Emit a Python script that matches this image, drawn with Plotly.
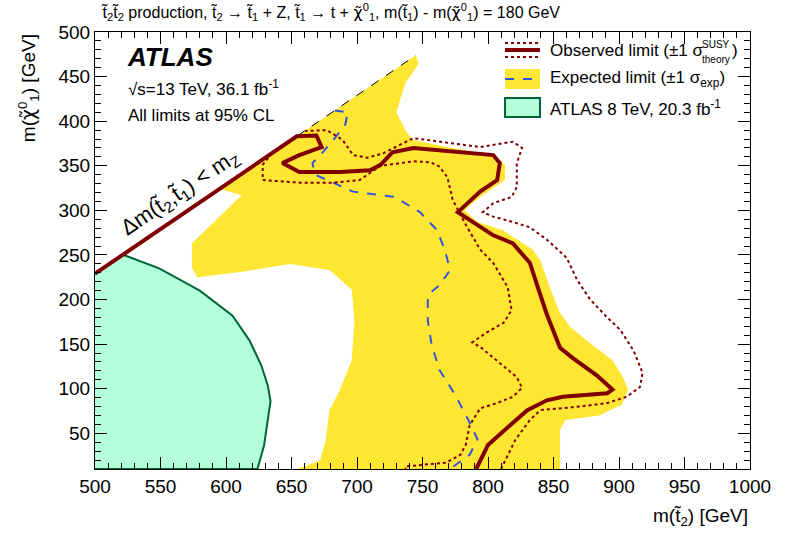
import plotly.graph_objects as go

# ---------------- data (GeV) ----------------
green_x = [500, 522, 549, 580, 605, 618, 627, 632, 634, 632, 629, 624, 500]
green_y = [229, 250, 235, 210, 182, 154, 126, 103, 86, 64, 36, 10, 10]

exp_band_x = [595, 745, 747, 737, 730, 738, 743, 769, 804, 809, 813, 813, 794, 782, 792, 811, 819,
              834, 840, 847, 855, 863, 878, 895, 903, 907, 902, 885, 859, 855, 855,
              655, 672, 676, 679, 687, 696, 698, 696, 679, 649, 611, 578, 574, 574, 612]
exp_band_y = [324, 474, 464, 443, 410, 387, 379, 371, 362, 356, 351, 334, 315, 300, 287, 278, 270,
              256, 244, 214, 185, 169, 151, 132, 113, 99, 82, 70, 65, 54, 10,
              10, 20, 42, 76, 99, 132, 177, 211, 233, 240, 231, 225, 236, 263, 317]

obs_x = [500, 654, 669, 673, 656, 643, 656, 687, 710, 718, 727, 743, 804, 809, 807, 794, 777, 794,
         804, 819, 832, 838, 845, 855, 865, 883, 895, 891, 857, 845, 830, 813, 800, 791]
obs_y = [229, 383, 384, 371, 362, 353, 343, 343, 345, 351, 365, 370, 362, 353, 334, 321, 298, 281,
         272, 263, 241, 214, 183, 146, 134, 115, 99, 95, 91, 87, 76, 54, 37, 10]

obs_up_x = [660, 677, 689, 697, 708, 720, 743, 769, 794, 819, 826, 822, 822, 818, 804, 796, 804,
            819, 832, 845, 860, 868, 878, 891, 901, 911, 918, 916, 906, 891, 870, 840, 832, 821,
            813, 810]
obs_up_y = [389, 390, 379, 362, 359, 364, 381, 376, 371, 377, 370, 353, 326, 315, 308, 298, 293,
            287, 281, 267, 247, 222, 200, 180, 166, 143, 118, 102, 91, 84, 80, 76, 65, 43,
            20, 10]

obs_dn_x = [635, 628, 628, 657, 682, 702, 718, 743, 756, 763, 769, 773, 783, 794, 804, 815, 818,
            812, 799, 788, 794, 809, 822, 826, 819, 807, 794, 786, 783, 779, 768, 737, 737]
obs_dn_y = [364, 351, 334, 331, 331, 334, 350, 355, 354, 349, 337, 312, 284, 256, 241, 214, 188,
            174, 163, 152, 147, 129, 113, 101, 91, 84, 78, 59, 37, 26, 17, 13, 10]

exp_x = [683, 693, 691, 682, 672, 666, 668, 682, 697, 729, 748, 761, 767, 771, 763, 754, 754,
         757, 763, 775, 785, 792, 786, 771]
exp_y = [412, 410, 396, 379, 362, 353, 340, 331, 321, 315, 298, 278, 256, 233, 216, 205, 177,
         149, 121, 93, 65, 43, 26, 10]

kin_x = [654, 745]
kin_y = [383, 474]

x_range = [500, 1000]
y_range = [10, 500]

# ---------------- styles ----------------
YELLOW = "#FFE633"
RED = "#800000"
BLUE = "#3355DD"
GREEN_FILL = "#B3FFD9"
GREEN_LINE = "#006633"
FONT = "Liberation Sans"
CHI = '<span style="font-family:DejaVu Sans">χ̃</span>'

fig = go.Figure()
fig.add_trace(go.Scatter(x=exp_band_x, y=exp_band_y, fill="toself", fillcolor=YELLOW,
                         line=dict(width=0), mode="lines", hoverinfo="skip"))
fig.add_trace(go.Scatter(x=green_x, y=green_y, fill="toself", fillcolor=GREEN_FILL,
                         line=dict(width=2, color=GREEN_LINE), mode="lines", hoverinfo="skip"))
fig.add_trace(go.Scatter(x=kin_x, y=kin_y, mode="lines",
                         line=dict(color="black", width=1, dash="dash")))
fig.add_trace(go.Scatter(x=exp_x, y=exp_y, mode="lines",
                         line=dict(color=BLUE, width=2, dash="dash")))
fig.add_trace(go.Scatter(x=obs_up_x, y=obs_up_y, mode="lines",
                         line=dict(color=RED, width=2, dash="dot")))
fig.add_trace(go.Scatter(x=obs_dn_x, y=obs_dn_y, mode="lines",
                         line=dict(color=RED, width=2, dash="dot")))
fig.add_trace(go.Scatter(x=obs_x, y=obs_y, mode="lines",
                         line=dict(color=RED, width=4)))

axis_common = dict(showgrid=False, zeroline=False, showline=True, linecolor="black", linewidth=1,
                   mirror="allticks", ticks="inside", ticklen=12, tickcolor="black", tickwidth=1,
                   tickfont=dict(family=FONT, size=19, color="black"),
                   minor=dict(dtick=10, ticks="inside", ticklen=6, tickcolor="black"))
fig.update_xaxes(range=x_range, dtick=50, tick0=500, **axis_common)
fig.update_yaxes(range=y_range, dtick=50, tick0=0, **axis_common)

ann = []
def txt(x, y, s, size=17, xanchor="left", yanchor="middle", angle=0, xref="paper", yref="paper"):
    ann.append(dict(x=x, y=y, xref=xref, yref=yref, text=s, showarrow=False, xanchor=xanchor,
                    yanchor=yanchor, textangle=angle, font=dict(family=FONT, size=size, color="black")))

# title
txt(0.006, 1.046, "t̃<sub>2</sub>t̃<sub>2</sub> production, t̃<sub>2</sub> → t̃<sub>1</sub> + Z, "
    "t̃<sub>1</sub> → t + " + CHI + "<sup>0</sup><sub>1</sub>, m(t̃<sub>1</sub>) - m(" + CHI +
    "<sup>0</sup><sub>1</sub>) = 180 GeV", size=16, yanchor="middle")
# axis titles
txt(1.0, -0.11, "m(t̃<sub>2</sub>) [GeV]", size=19, xanchor="right", yanchor="middle")
txt(-0.102, 1.0, "m(" + CHI + "<sup>0</sup><sub>1</sub>) [GeV]", size=19, xanchor="center",
    yanchor="top", angle=-90)
# ATLAS labels
ann.append(dict(x=0.046, y=0.9417, xref="paper", yref="paper", showarrow=False, xanchor="left",
                yanchor="middle", text="<b><i>ATLAS</i></b>",
                font=dict(family=FONT, size=26, color="black")))
txt(0.047, 0.872, "√s=13 TeV, 36.1 fb<sup>-1</sup>", size=17)
txt(0.047, 0.81, "All limits at 95% CL", size=17)
# kinematic label
txt(565, 320, "Δm(t̃<sub>2</sub>,t̃<sub>1</sub>) < m<sub>Z</sub>", size=22, xanchor="center",
    angle=-34, xref="x", yref="y")
# legend texts
txt(0.6916, 0.9588, "Observed limit (±1 σ", size=17)
txt(0.9237, 0.972, "SUSY", size=10)
txt(0.9237, 0.937, "theory", size=10)
txt(0.9695, 0.9588, ")", size=17)
txt(0.6916, 0.8924, "Expected limit (±1 σ<sub>exp</sub>)", size=17)
txt(0.6916, 0.826, "ATLAS 8 TeV, 20.3 fb<sup>-1</sup>", size=17)

LX0, LX1 = 0.626, 0.6794
shapes = [
    dict(type="line", xref="paper", yref="paper", x0=LX0, x1=LX1, y0=0.9588, y1=0.9588,
         line=dict(color=RED, width=4)),
    dict(type="line", xref="paper", yref="paper", x0=LX0, x1=LX1, y0=0.9748, y1=0.9748,
         line=dict(color=RED, width=2, dash="dot")),
    dict(type="line", xref="paper", yref="paper", x0=LX0, x1=LX1, y0=0.9428, y1=0.9428,
         line=dict(color=RED, width=2, dash="dot")),
    dict(type="rect", xref="paper", yref="paper", x0=LX0, x1=LX1, y0=0.8696, y1=0.9153,
         fillcolor=YELLOW, line=dict(width=0)),
    dict(type="line", xref="paper", yref="paper", x0=LX0, x1=LX1, y0=0.8924, y1=0.8924,
         line=dict(color=BLUE, width=2, dash="dash")),
    dict(type="rect", xref="paper", yref="paper", x0=LX0, x1=LX1, y0=0.8055, y1=0.849,
         fillcolor=GREEN_FILL, line=dict(color=GREEN_LINE, width=2)),
]

fig.update_layout(width=789, height=534, margin=dict(l=95, r=39, t=32, b=65),
                  plot_bgcolor="white", paper_bgcolor="white", showlegend=False,
                  annotations=ann, shapes=shapes, font=dict(family=FONT))
fig.write_html("out.html", config={"displayModeBar": False},
               post_script="document.body.style.margin='0px';document.body.style.overflow='hidden';")
